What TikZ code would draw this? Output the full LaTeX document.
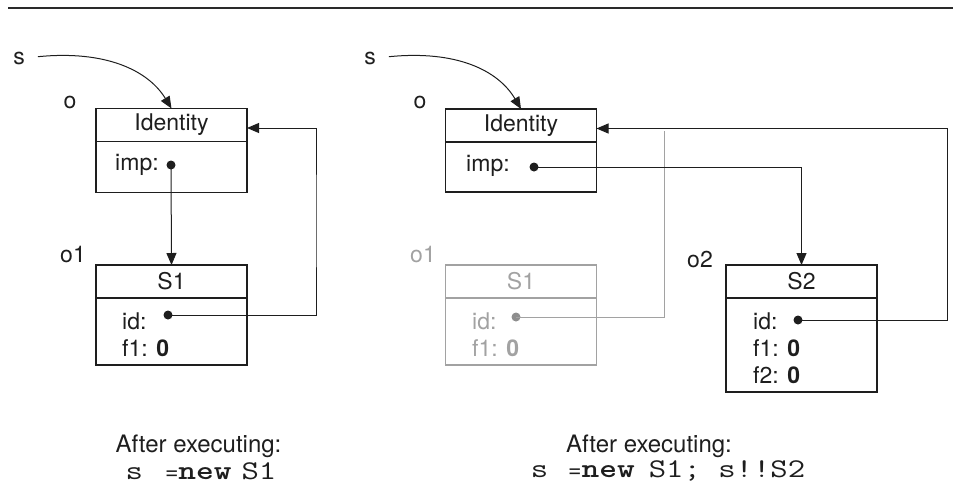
\documentclass[tikz,border=0pt]{standalone}
\usepackage{fontspec}
\setmainfont{TeX Gyre Heros}
\usepackage{graphicx}
\usepackage{tikz}
\usetikzlibrary{positioning,arrows.meta}
\definecolor{inkDark}{HTML}{1E1E1E}
\definecolor{ruleDark}{HTML}{2A2A2A}
\definecolor{grayFaded}{HTML}{A2A2A2}
\definecolor{grayDot}{HTML}{8E8E8E}

\begin{document}
\begin{tikzpicture}[x=1pt,y=-1pt]

        \tikzset{
            label/.style={font=\fontsize{23}{26}\selectfont, inner sep=0pt, text=inkDark},
            objhead/.style={draw=inkDark, line width=1.3pt, minimum width=151pt,
                minimum height=33pt, inner sep=0pt, outer sep=0pt, label},
            objbody/.style={draw=inkDark, line width=1.3pt, minimum width=151pt,
                inner sep=0pt, outer sep=0pt},
            field/.style={label, anchor=west},
            ptr/.style={circle, fill=inkDark, inner sep=0pt, minimum size=9pt},
            link/.style={draw=inkDark, line width=1pt, -{Triangle[length=12pt,width=10pt]}},
            faded/.style={draw=grayFaded, text=grayFaded},
            caption/.style={label, font=\fontsize{24}{27}\selectfont},
            codeline/.style={label}
        }

        \newcommand{\CodeText}[1]{\scalebox{1.25}[1]{\fontsize{27}{30}\ttfamily #1}}

        \useasboundingbox (0,0) rectangle (953,491);
        \draw[ruleDark, line width=2pt] (8,8) -- (953,8);

        % after s = new S1
        \node[label] (sA) at (19,58) {s};
        \node[label] (oA) at (70,102) {o};
        \node[objhead] (identA) at (171.5,125) {Identity};
        \node[objbody, minimum height=51pt, below=0pt of identA] (identAbody) {};
        \node[field] (impA) at (115,165) {imp:};
        \node[ptr] (impDotA) at (171,165) {};

        \node[label] (o1A) at (73,255) {o1};
        \node[objhead] (s1headA) at (171.5,281.5) {S1};
        \node[objbody, minimum height=67pt, below=0pt of s1headA] (s1bodyA) {};
        \node[field] (idA) at (122,321) {id:};
        \node[ptr] (idDotA) at (168,315) {};
        \node[field] (f1A) at (122,348) {f1: \textbf{0}};

        \coordinate (loopA) at (316,220);
        \draw[link] (sA.east) [shorten <=13pt] .. controls (105,50) and (148,70) .. (identA.north);
        \draw[link] (impDotA.center) -- (s1headA.north);
        \draw[link] (idDotA.center) -| (loopA) |- ([yshift=-3pt]identA.east);

        \node[caption] (capA) at (198.5,446) {After executing:};
        \node[codeline] (codeA) at (201,471)
            {\CodeText{s}\hspace{22pt}=\CodeText{\bfseries new}\hspace{10pt}\CodeText{S1}};

        % after s = new S1; s!!S2
        \node[label] (sB) at (370,58) {s};
        \node[label] (oB) at (420,102) {o};
        \node[objhead] (identB) at (521,125.5) {Identity};
        \node[objbody, minimum height=50pt, below=0pt of identB] (identBbody) {};
        \node[field] (impB) at (466,166) {imp:};
        \node[ptr] (impDotB) at (534,167) {};

        \node[label, text=grayFaded] (o1B) at (423,255) {o1};
        \node[objhead, faded] (s1headB) at (521,281.5) {S1};
        \node[objbody, faded, minimum height=67pt, below=0pt of s1headB] (s1bodyB) {};
        \node[field, text=grayFaded] (idB) at (472,321) {id:};
        \node[ptr, fill=grayDot] (idDotB) at (516,317) {};
        \node[field, text=grayFaded] (f1B) at (472,348) {f1: \textbf{0}};

        \node[label] (o2B) at (700,260) {o2};
        \node[objhead] (s2head) at (801.5,281.5) {S2};
        \node[objbody, minimum height=94pt, below=0pt of s2head] (s2body) {};
        \node[field] (idC) at (753,321) {id:};
        \node[ptr] (idDotC) at (798,320) {};
        \node[field] (f1C) at (753,348) {f1: \textbf{0}};
        \node[field] (f2C) at (753,375) {f2: \textbf{0}};

        \coordinate (oldEnd) at (664,131);
        \coordinate (loopB) at (947,220);
        \draw[grayFaded, line width=1pt] (idDotB.center) -| (oldEnd);
        \draw[link] (sB.east) [shorten <=13pt] .. controls (456,50) and (498,70) .. (identB.north);
        \draw[link] (impDotB.center) -| (s2head.north);
        \draw[link] (idDotC.center) -| (loopB) |- ([yshift=-3pt]identB.east);

        \node[caption] (capB) at (649,446) {After executing:};
        \node[codeline] (codeB) at (668,471)
            {\CodeText{s}\hspace{20pt}=\CodeText{\bfseries new}\hspace{14pt}\CodeText{S1; s!!S2}};

\end{tikzpicture}
\end{document}
